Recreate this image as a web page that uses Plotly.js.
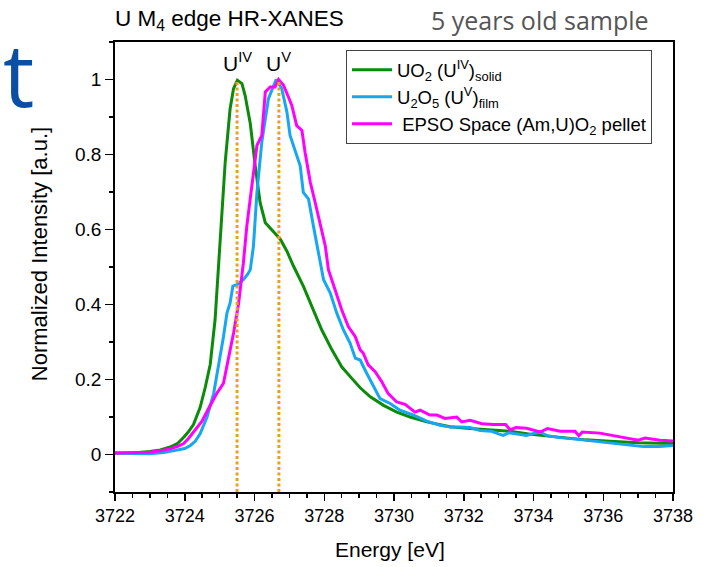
<!DOCTYPE html>
<html>
<head>
<meta charset="utf-8">
<script src="https://cdn.plot.ly/plotly-3.0.1.min.js"></script>
<style>
  html, body { margin: 0; padding: 0; background: #fff; }
  #chart { width: 712px; height: 567px; }
</style>
</head>
<body>
<div id="chart"></div>
<script>
// ---- Data ----
const uo2Energy = [3722.0, 3722.5, 3723.0, 3723.3, 3723.58, 3723.8, 3723.97, 3724.1, 3724.25, 3724.44, 3724.59, 3724.73, 3724.87, 3724.97, 3725.07, 3725.16, 3725.30, 3725.40, 3725.51, 3725.64, 3725.73, 3725.88, 3726.02, 3726.16, 3726.31, 3726.54, 3726.74, 3726.93, 3727.12, 3727.40, 3727.64, 3727.93, 3728.22, 3728.50, 3728.79, 3729.03, 3729.32, 3729.70, 3730.08, 3730.46, 3730.94, 3731.61, 3732.18, 3732.8, 3733.33, 3734.0, 3734.76, 3735.5, 3736.19, 3737.0, 3738.0];
const uo2Intensity = [0.004, 0.004, 0.008, 0.012, 0.02, 0.03, 0.046, 0.06, 0.08, 0.125, 0.18, 0.24, 0.36, 0.5, 0.65, 0.78, 0.922, 0.976, 0.998, 0.989, 0.958, 0.882, 0.77, 0.672, 0.618, 0.596, 0.574, 0.542, 0.502, 0.449, 0.395, 0.332, 0.279, 0.234, 0.203, 0.178, 0.154, 0.131, 0.113, 0.100, 0.087, 0.074, 0.069, 0.065, 0.062, 0.053, 0.045, 0.039, 0.035, 0.031, 0.029];

const u2o5Energy = [3722.0, 3722.5, 3723.0, 3723.4, 3723.78, 3724.0, 3724.16, 3724.3, 3724.44, 3724.64, 3724.83, 3724.97, 3725.11, 3725.21, 3725.30, 3725.38, 3725.50, 3725.68, 3725.80, 3725.88, 3725.97, 3726.07, 3726.21, 3726.40, 3726.62, 3726.78, 3726.93, 3727.02, 3727.17, 3727.31, 3727.40, 3727.55, 3727.69, 3727.83, 3727.98, 3728.17, 3728.36, 3728.55, 3728.74, 3728.89, 3729.03, 3729.22, 3729.46, 3729.60, 3729.89, 3730.17, 3730.56, 3730.94, 3731.32, 3731.61, 3731.89, 3732.18, 3732.47, 3732.8, 3733.0, 3733.13, 3733.3, 3733.5, 3733.8, 3734.0, 3734.19, 3734.4, 3734.76, 3735.2, 3735.71, 3736.3, 3736.8, 3737.15, 3737.6, 3738.0];
const u2o5Intensity = [0.003, 0.003, 0.002, 0.005, 0.011, 0.016, 0.024, 0.035, 0.055, 0.10, 0.163, 0.234, 0.314, 0.377, 0.404, 0.449, 0.453, 0.466, 0.48, 0.493, 0.556, 0.699, 0.833, 0.949, 1.0, 0.976, 0.913, 0.851, 0.806, 0.77, 0.699, 0.681, 0.609, 0.538, 0.466, 0.431, 0.377, 0.332, 0.297, 0.257, 0.252, 0.216, 0.176, 0.149, 0.136, 0.118, 0.105, 0.089, 0.078, 0.073, 0.073, 0.072, 0.064, 0.062, 0.055, 0.051, 0.058, 0.055, 0.051, 0.056, 0.060, 0.050, 0.045, 0.041, 0.036, 0.030, 0.025, 0.021, 0.021, 0.024];

const epsoEnergy = [3722.0, 3722.5, 3723.0, 3723.3, 3723.58, 3723.8, 3723.97, 3724.1, 3724.25, 3724.49, 3724.68, 3724.92, 3725.11, 3725.25, 3725.40, 3725.54, 3725.68, 3725.78, 3725.92, 3726.07, 3726.21, 3726.31, 3726.45, 3726.59, 3726.69, 3726.83, 3726.97, 3727.07, 3727.21, 3727.36, 3727.45, 3727.60, 3727.74, 3727.88, 3728.03, 3728.12, 3728.31, 3728.50, 3728.69, 3728.89, 3729.03, 3729.12, 3729.26, 3729.46, 3729.65, 3729.83, 3730.08, 3730.32, 3730.60, 3730.75, 3731.03, 3731.23, 3731.46, 3731.80, 3731.94, 3732.18, 3732.52, 3732.85, 3733.2, 3733.33, 3733.5, 3733.8, 3734.19, 3734.4, 3734.76, 3735.19, 3735.3, 3735.4, 3735.9, 3736.47, 3737.0, 3737.2, 3737.62, 3738.0];
const epsoIntensity = [0.004, 0.004, 0.006, 0.010, 0.015, 0.022, 0.029, 0.042, 0.060, 0.088, 0.122, 0.163, 0.19, 0.252, 0.324, 0.40, 0.51, 0.609, 0.71, 0.824, 0.851, 0.967, 0.98, 0.98, 1.0, 0.985, 0.954, 0.931, 0.877, 0.864, 0.806, 0.726, 0.672, 0.618, 0.556, 0.493, 0.44, 0.386, 0.341, 0.314, 0.279, 0.27, 0.239, 0.221, 0.194, 0.163, 0.14, 0.134, 0.113, 0.118, 0.105, 0.105, 0.096, 0.10, 0.087, 0.091, 0.082, 0.080, 0.080, 0.066, 0.072, 0.070, 0.060, 0.069, 0.062, 0.062, 0.050, 0.060, 0.057, 0.048, 0.038, 0.044, 0.038, 0.036];

const seriesNames = [
  'UO<sub>2</sub> (U<sup>IV</sup>)<sub>solid</sub>',
  'U<sub>2</sub>O<sub>5</sub> (U<sup>V</sup>)<sub>film</sub>',
  ' EPSO Space (Am,U)O<sub>2</sub> pellet'
];
const markerEnergies = [3725.5, 3726.7];
const markerLabels = ['U<sup>IV</sup>', 'U<sup>V</sup>'];
const xTickVals = [3722, 3724, 3726, 3728, 3730, 3732, 3734, 3736, 3738];
const yTickVals = [0, 0.2, 0.4, 0.6, 0.8, 1];
const yTickText = ['0', '0.2', '0.4', '0.6', '0.8', '1'];
const titleText = 'U M<sub>4</sub> edge HR-XANES';
const subtitleText = '5 years old sample';
const xTitleText = 'Energy [eV]';
const yTitleText = 'Normalized Intensity [a.u.]';

// ---- Styling ----
const FONT = 'Liberation Sans, Arial, sans-serif';
const colors = ['#0a8c0a', '#16a6f2', '#ff00ff'];
const dotColor = '#e9a020';

const traces = [
  {x: uo2Energy, y: uo2Intensity, name: seriesNames[0]},
  {x: u2o5Energy, y: u2o5Intensity, name: seriesNames[1]},
  {x: epsoEnergy, y: epsoIntensity, name: seriesNames[2]}
].map((t, i) => Object.assign(t, {
  type: 'scatter', mode: 'lines',
  line: {color: colors[i], width: 3},
  hoverinfo: 'skip'
}));

const shapes = markerEnergies.map(e => ({
  type: 'line', xref: 'x', yref: 'y',
  x0: e, x1: e, y0: -0.1, y1: 1.0,
  line: {color: dotColor, width: 3, dash: '3px,2.5px'},
  layer: 'above'
}));

const annotations = markerEnergies.map((e, i) => ({
  xref: 'x', yref: 'y', x: e, y: 1.008,
  xanchor: 'center', yanchor: 'bottom',
  text: markerLabels[i], showarrow: false,
  font: {family: FONT, size: 21, color: '#000'}
}));

annotations.push({
  xref: 'paper', yref: 'paper', x: -0.004, y: 1.049,
  xanchor: 'left', yanchor: 'middle',
  text: titleText, showarrow: false,
  font: {family: FONT, size: 22.5, color: '#000'}
});
annotations.push({
  xref: 'paper', yref: 'paper', x: 0.96, y: 1.049,
  xanchor: 'right', yanchor: 'middle',
  text: subtitleText, showarrow: false,
  font: {family: 'Open Sans, sans-serif', size: 25, color: '#555555'}
});
annotations.push({
  xref: 'paper', yref: 'paper', x: -0.142, y: 0.931,
  xanchor: 'right', yanchor: 'middle',
  text: 't', showarrow: false,
  font: {family: 'Open Sans, sans-serif', size: 88, color: '#0a4fa3'}
});
annotations.push({
  xref: 'paper', yref: 'paper', x: -0.134, y: 0.529,
  xanchor: 'center', yanchor: 'middle', textangle: -90,
  text: yTitleText, showarrow: false,
  font: {family: FONT, size: 22, color: '#000'}
});
annotations.push({
  xref: 'paper', yref: 'paper', x: 0.493, y: -0.127,
  xanchor: 'center', yanchor: 'middle',
  text: xTitleText, showarrow: false,
  font: {family: FONT, size: 21, color: '#000'}
});

const layout = {
  width: 712, height: 567,
  margin: {l: 115, r: 39, t: 42, b: 75},
  paper_bgcolor: '#fff', plot_bgcolor: '#fff',
  showlegend: true,
  font: {family: FONT, size: 18, color: '#000'},
  xaxis: {
    range: [3722, 3738],
    tickvals: xTickVals,
    ticks: 'outside', ticklen: 7, tickwidth: 1.5, tickcolor: '#000',
    minor: {dtick: 0.5, ticks: 'outside', ticklen: 4, tickwidth: 1.5, tickcolor: '#000', showgrid: false},
    showline: true, linecolor: '#000', linewidth: 1.8, mirror: true,
    showgrid: false, zeroline: false,
    tickfont: {family: FONT, size: 18, color: '#000'}
  },
  yaxis: {
    range: [-0.1, 1.1],
    tickvals: yTickVals, ticktext: yTickText,
    ticks: 'outside', ticklen: 8, tickwidth: 1.5, tickcolor: '#000',
    minor: {dtick: 0.1, tick0: 0, ticks: 'outside', ticklen: 4, tickwidth: 1.5, tickcolor: '#000', showgrid: false},
    showline: true, linecolor: '#000', linewidth: 1.8, mirror: true,
    showgrid: false, zeroline: false,
    tickfont: {family: FONT, size: 19, color: '#000'}
  },
  legend: {
    x: 0.414, y: 0.982, xanchor: 'left', yanchor: 'top',
    bgcolor: '#fff', bordercolor: '#444', borderwidth: 1,
    font: {family: FONT, size: 18.5, color: '#000'},
    tracegroupgap: 0, itemwidth: 40
  },
  shapes: shapes,
  annotations: annotations
};

Plotly.newPlot('chart', traces, layout, {displayModeBar: false, staticPlot: true});
</script>
</body>
</html>
